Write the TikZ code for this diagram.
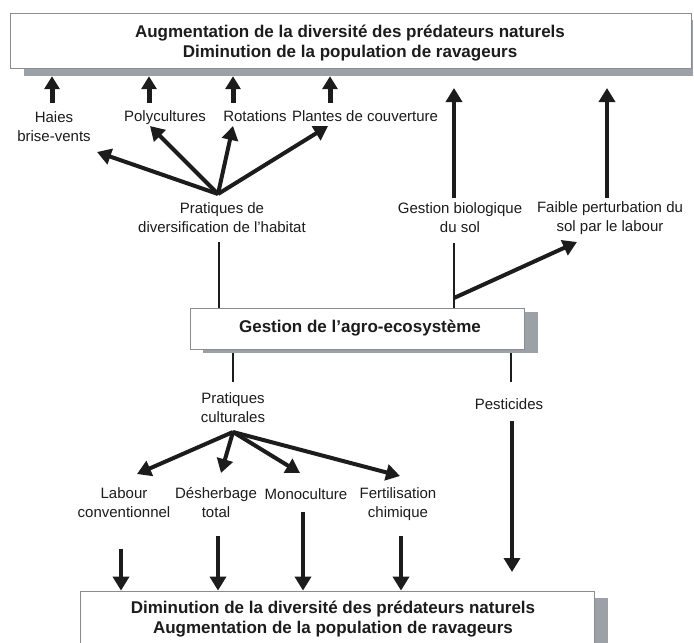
\documentclass[tikz,border=0pt]{standalone}
\usepackage{fontspec}
\setmainfont{Liberation Sans}
\usetikzlibrary{arrows.meta}
\definecolor{shadowc}{RGB}{156,161,168}
\definecolor{boxline}{RGB}{140,140,140}
\definecolor{ink}{RGB}{28,28,28}
\begin{document}
\begin{tikzpicture}[x=1pt,y=-1pt,
  lbl/.style={font=\fontsize{15}{19}\selectfont, align=center, inner sep=0pt, text=ink},
  boxtxt/.style={font=\fontsize{17}{20}\selectfont\bfseries, align=center, text=ink, inner sep=0pt},
  mainbox/.style={draw=boxline, line width=0.8pt, fill=white, inner sep=0pt},
  shadowbox/.style={fill=shadowc, draw=none, inner sep=0pt},
  arr/.style={draw=ink, line width=4pt, -{Triangle[width=16pt,length=14pt]}},
  uarr/.style={draw=ink, line width=5pt, -{Triangle[width=15pt,length=13pt]}},
  link/.style={draw=ink, line width=2.5pt},
]
\useasboundingbox (0,0) rectangle (694,643);
\clip (0,0) rectangle (694,643);
\fill[white] (0,0) rectangle (694,643);

% ---- boxes ----
\node[shadowbox, minimum width=669pt, minimum height=56pt] (topsh) at (358.5,48) {};
\node[mainbox, minimum width=681pt, minimum height=55pt] (top) at (350.5,40.5) {};
\node[boxtxt] (toptxt) at (350,43) {Augmentation de la diversité des prédateurs naturels\\Diminution de la population de ravageurs};

\node[shadowbox, minimum width=335pt, minimum height=41pt] (midsh) at (370.5,332.5) {};
\node[mainbox, minimum width=334pt, minimum height=41pt] (mid) at (357,328.5) {};
\node[boxtxt] (midtxt) at (360,328.5) {Gestion de l’agro-ecosystème};

\node[shadowbox, minimum width=514pt, minimum height=54pt] (botsh) at (351,625) {};
\node[mainbox, minimum width=514pt, minimum height=54pt] (bot) at (337,618) {};
\node[boxtxt] (bottxt) at (333,619) {Diminution de la diversité des prédateurs naturels\\Augmentation de la population de ravageurs};

% ---- upper labels ----
\node[lbl] (haies) at (54,126.5) {Haies\\brise-vents};
\node[lbl] (poly) at (165,118) {Polycultures};
\node[lbl] (rot) at (255,116) {Rotations};
\node[lbl] (plantes) at (365,116) {Plantes de couverture};
\node[lbl] (prat) at (222,218) {Pratiques de\\diversification de l’habitat};
\node[lbl] (gbio) at (460,218) {Gestion biologique\\du sol};
\node[lbl] (faible) at (610,218) {Faible perturbation du\\sol par le labour};

% ---- lower labels ----
\node[lbl] (pc) at (233,408) {Pratiques\\culturales};
\node[lbl] (pest) at (509,404) {Pesticides};
\node[lbl] (labour) at (124,503) {Labour\\conventionnel};
\node[lbl] (desh) at (216,503) {Désherbage\\total};
\node[lbl] (mono) at (306,494) {Monoculture};
\node[lbl] (fert) at (398,504) {Fertilisation\\chimique};

% ---- coordinates ----
\coordinate (hub1) at (218,194);
\coordinate (t-haies) at (97,152);
\coordinate (t-poly) at (150,126);
\coordinate (t-rot) at (233,126);
\coordinate (t-plantes) at (328,126);
\coordinate (u-haies) at (52,103);
\coordinate (u-poly) at (149,103);
\coordinate (u-rot) at (233,103);
\coordinate (u-plantes) at (330,103);
\coordinate (u-gbio) at (454,198);
\coordinate (u-faible) at (607,198);
\coordinate (e-gbio) at (454,88);
\coordinate (e-faible) at (607,88);
\coordinate (l-prat) at (219,242);
\coordinate (l-gbio) at (454,243);
\coordinate (junc) at (454,298);
\coordinate (t-faible) at (577,242);
\coordinate (l-pc) at (233,382);
\coordinate (l-pest) at (511,382);
\coordinate (hub2) at (233,432);
\coordinate (t-labour) at (137,474);
\coordinate (t-desh) at (221,473);
\coordinate (t-mono) at (300,473);
\coordinate (t-fert) at (400,476);
\coordinate (d-labour) at (121,549);
\coordinate (d-desh) at (218,536);
\coordinate (d-mono) at (303,512);
\coordinate (d-fert) at (401,536);
\coordinate (d-pest) at (512,421);
\coordinate (e-pest) at (512,572);

% ---- upper connectors ----
\draw[uarr] (u-haies) -- (u-haies |- topsh.south);
\draw[uarr] (u-poly) -- (u-poly |- topsh.south);
\draw[uarr] (u-rot) -- (u-rot |- topsh.south);
\draw[uarr] (u-plantes) -- (u-plantes |- topsh.south);
\draw[arr] (hub1) -- (t-haies);
\draw[arr] (hub1) -- (t-poly);
\draw[arr] (hub1) -- (t-rot);
\draw[arr] (hub1) -- (t-plantes);
\draw[arr] (u-gbio) -- (e-gbio);
\draw[arr] (u-faible) -- (e-faible);
\draw[link] (l-prat) -- (l-prat |- mid.north);
\draw[link] (l-gbio) -- (l-gbio |- mid.north);
\draw[arr] (junc) -- (t-faible);

% ---- lower connectors ----
\draw[link] (l-pc |- midsh.south) -- (l-pc);
\draw[link] (l-pest |- midsh.south) -- (l-pest);
\draw[arr] (hub2) -- (t-labour);
\draw[arr] (hub2) -- (t-desh);
\draw[arr] (hub2) -- (t-mono);
\draw[arr] (hub2) -- (t-fert);
\draw[arr] (d-labour) -- (d-labour |- bot.north);
\draw[arr] (d-desh) -- (d-desh |- bot.north);
\draw[arr] (d-mono) -- (d-mono |- bot.north);
\draw[arr] (d-fert) -- (d-fert |- bot.north);
\draw[arr] (d-pest) -- (e-pest);
\end{tikzpicture}
\end{document}
